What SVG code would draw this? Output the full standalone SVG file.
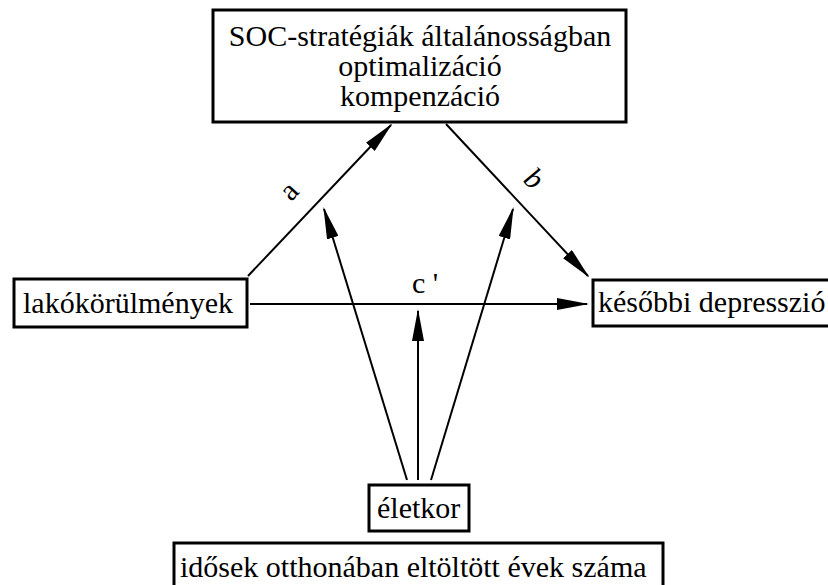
<svg xmlns="http://www.w3.org/2000/svg" width="828" height="585" viewBox="0 0 828 585">
<style>
.box{fill:#fff;stroke:#000;stroke-width:3}
.t{font-family:"Liberation Serif","DejaVu Serif",serif;font-size:30px;fill:#000}
.c{stroke:#000;stroke-width:2;fill:none;marker-end:url(#ah)}
</style>
<defs>
<marker id="ah" markerUnits="userSpaceOnUse" viewBox="0 0 32 12" refX="30" refY="6" markerWidth="32" markerHeight="12" orient="auto">
<path d="M0,0 L32,6 L0,12 Z" fill="#000"/>
</marker>
</defs>
<rect width="828" height="585" fill="#fff"/>
<g id="connectors">
<line class="c" x1="248" y1="276" x2="391" y2="125"/>
<line class="c" x1="446" y1="124" x2="588" y2="276"/>
<line class="c" x1="250" y1="304" x2="587" y2="304"/>
<line class="c" x1="418" y1="480" x2="418" y2="311"/>
<line class="c" x1="407" y1="480" x2="324" y2="209"/>
<line class="c" x1="431" y1="480" x2="513" y2="209"/>
<text class="t" font-family="Liberation Serif, serif" x="290" y="200" text-anchor="middle" transform="rotate(-47 290 192)">a</text>
<text class="t" font-family="Liberation Serif, serif" x="533" y="188" text-anchor="middle" font-style="italic" transform="rotate(40 533 180)">b</text>
<text class="t" font-family="Liberation Serif, serif" x="412" y="293">c '</text>
</g>
<g id="soc">
<rect class="box" x="213" y="10" width="413" height="112"/>
<text class="t" font-family="Liberation Serif, serif" x="420" y="46" text-anchor="middle">SOC-stratégiák általánosságban</text>
<text class="t" font-family="Liberation Serif, serif" x="420" y="76" text-anchor="middle">optimalizáció</text>
<text class="t" font-family="Liberation Serif, serif" x="420" y="106" text-anchor="middle">kompenzáció</text>
</g>
<g id="lako">
<rect class="box" x="14" y="279" width="233" height="48"/>
<text class="t" font-family="Liberation Serif, serif" x="23" y="313">lakókörülmények</text>
</g>
<g id="depr">
<rect class="box" x="593" y="280" width="260" height="46"/>
<text class="t" font-family="Liberation Serif, serif" x="598" y="312">későbbi depresszió</text>
</g>
<g id="eletkor">
<rect class="box" x="369" y="485" width="100" height="46"/>
<text class="t" font-family="Liberation Serif, serif" x="377" y="518">életkor</text>
</g>
<g id="idosek">
<rect class="box" x="174" y="543" width="489" height="60"/>
<text class="t" font-family="Liberation Serif, serif" x="180" y="577">idősek otthonában eltöltött évek száma</text>
</g>
</svg>
